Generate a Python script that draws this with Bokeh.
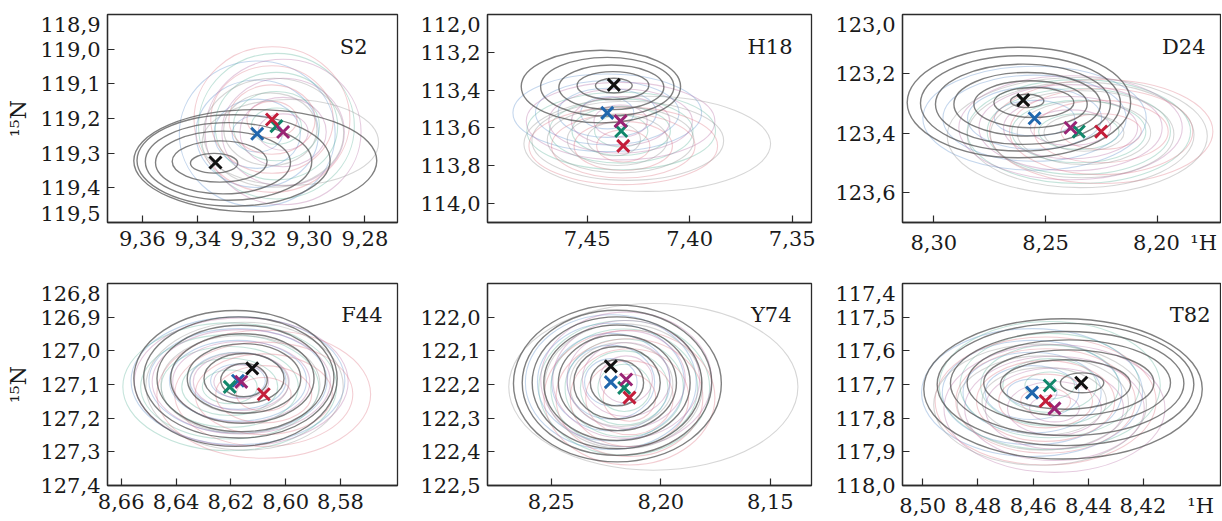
from bokeh.plotting import figure
from bokeh.models import Range1d, FixedTicker, Label, ColumnDataSource, AllLabels, LinearAxis
from bokeh.layouts import row, column
from bokeh.embed import file_html
from bokeh.resources import INLINE

FONT = "DejaVu Serif"

# series order: reference (black), blue, green, purple, red
series_colors = ["#111111", "#2067ad", "#12876b", "#9a2475", "#c41e3a"]
contour_colors = ["#111111", "#4f86c8", "#4fae92", "#b0609e", "#dc6a78"]

# ---------------- S2 ----------------
s2_name = "S2"
s2_xrange = [9.3725, 9.2683]
s2_yrange = [119.5, 118.9]
s2_xticks = [9.36, 9.34, 9.32, 9.30, 9.28]
s2_xlabels = ["9,36", "9,34", "9,32", "9,30", "9,28"]
s2_yticks = [118.9, 119.0, 119.1, 119.2, 119.3, 119.4, 119.5]
s2_ylabels = ["118,9", "119,0", "119,1", "119,2", "119,3", "119,4", "119,5"]
s2_peak_x = [9.3337, 9.3187, 9.3118, 9.3094, 9.3134]
s2_peak_y = [119.327, 119.244, 119.222, 119.239, 119.203]
s2_ref_cx = [9.3342, 9.3322, 9.3310, 9.3290, 9.3272, 9.3194]
s2_ref_cy = [119.329, 119.324, 119.327, 119.324, 119.321, 119.322]
s2_ref_w = [0.0170, 0.0341, 0.0485, 0.0598, 0.0694, 0.0873]
s2_ref_h = [0.057, 0.119, 0.181, 0.224, 0.264, 0.295]
s2_mid_cx = [9.3140, 9.3128, 9.3068]
s2_mid_cy = [119.231, 119.241, 119.269]
s2_mid_w = [0.0335, 0.0503, 0.0634]
s2_mid_h = [0.210, 0.314, 0.248]
s2_col_w = [0.018, 0.031, 0.044, 0.056]
s2_col_h = [0.105, 0.20, 0.31, 0.42]

# ---------------- H18 ----------------
h18_name = "H18"
h18_xrange = [7.4986, 7.3406]
h18_yrange = [114.1, 113.0]
h18_xticks = [7.45, 7.40, 7.35]
h18_xlabels = ["7,45", "7,40", "7,35"]
h18_yticks = [113.0, 113.2, 113.4, 113.6, 113.8, 114.0]
h18_ylabels = ["112,0", "113,2", "113,4", "113,6", "113,8", "114,0"]
h18_peak_x = [7.4370, 7.4402, 7.4334, 7.4337, 7.4324]
h18_peak_y = [113.372, 113.520, 113.616, 113.564, 113.695]
h18_ref_cx = [7.4370, 7.4374, 7.4382, 7.4402, 7.4433]
h18_ref_cy = [113.376, 113.376, 113.385, 113.382, 113.381]
h18_ref_w = [0.0179, 0.0350, 0.0512, 0.0650, 0.0777]
h18_ref_h = [0.0785, 0.148, 0.236, 0.311, 0.384]
h18_mid_cx = [7.4370, 7.4353, 7.4337, 7.4302, 7.4207]
h18_mid_cy = [113.660, 113.663, 113.663, 113.668, 113.684]
h18_mid_w = [0.0260, 0.0488, 0.0715, 0.0935, 0.1203]
h18_mid_h = [0.1745, 0.2705, 0.349, 0.419, 0.503]
h18_col_w = [0.026, 0.048, 0.070, 0.092]
h18_col_h = [0.17, 0.26, 0.34, 0.41]

# ---------------- D24 ----------------
d24_name = "D24"
d24_xrange = [8.314, 8.1717]
d24_yrange = [123.7, 123.0]
d24_xticks = [8.30, 8.25, 8.20]
d24_xlabels = ["8,30", "8,25", "8,20"]
d24_yticks = [123.0, 123.2, 123.4, 123.6]
d24_ylabels = ["123,0", "123,2", "123,4", "123,6"]
d24_peak_x = [8.2600, 8.2549, 8.2351, 8.2388, 8.2251]
d24_peak_y = [123.288, 123.349, 123.394, 123.381, 123.394]
d24_ref_cx = [8.2619, 8.2612, 8.2601, 8.2582, 8.2567, 8.2552, 8.2582]
d24_ref_cy = [123.296, 123.299, 123.302, 123.302, 123.302, 123.296, 123.291]
d24_ref_w = [0.1000, 0.0895, 0.0783, 0.0656, 0.0507, 0.0358, 0.0149]
d24_ref_h = [0.372, 0.321, 0.270, 0.214, 0.158, 0.101, 0.045]
d24_mid_cx = [8.2328, 8.2328, 8.2336, 8.2343, 8.2358]
d24_mid_cy = [123.398, 123.398, 123.403, 123.405, 123.409]
d24_mid_w = [0.0358, 0.0597, 0.0821, 0.1015, 0.1164]
d24_mid_h = [0.124, 0.214, 0.293, 0.355, 0.394]
d24_col_w = [0.036, 0.060, 0.082, 0.100]
d24_col_h = [0.12, 0.21, 0.29, 0.35]

# ---------------- F44 ----------------
f44_name = "F44"
f44_xrange = [8.665, 8.5592]
f44_yrange = [127.4, 126.8]
f44_xticks = [8.66, 8.64, 8.62, 8.60, 8.58]
f44_xlabels = ["8,66", "8,64", "8,62", "8,60", "8,58"]
f44_yticks = [126.8, 126.9, 127.0, 127.1, 127.2, 127.3, 127.4]
f44_ylabels = ["126,8", "126,9", "127,0", "127,1", "127,2", "127,3", "127,4"]
f44_peak_x = [8.6122, 8.6174, 8.6204, 8.6162, 8.6080]
f44_peak_y = [127.052, 127.089, 127.107, 127.092, 127.129]
f44_ref_cx = [8.6152, 8.6152, 8.6152, 8.6158, 8.6162, 8.6171, 8.6183]
f44_ref_cy = [127.087, 127.082, 127.082, 127.082, 127.082, 127.079, 127.082]
f44_ref_w = [0.0170, 0.0292, 0.0414, 0.0523, 0.0615, 0.0694, 0.0742]
f44_ref_h = [0.099, 0.148, 0.207, 0.266, 0.316, 0.360, 0.404]
f44_mid_cx = [8.6170, 8.6165, 8.6150]
f44_mid_cy = [127.095, 127.100, 127.105]
f44_mid_w = [0.036, 0.058, 0.072]
f44_mid_h = [0.18, 0.29, 0.38]
f44_col_w = [0.020, 0.035, 0.050, 0.065, 0.078]
f44_col_h = [0.10, 0.17, 0.24, 0.31, 0.38]

# ---------------- Y74 ----------------
y74_name = "Y74"
y74_xrange = [8.2791, 8.1312]
y74_yrange = [122.5, 121.9]
y74_xticks = [8.25, 8.20, 8.15]
y74_xlabels = ["8,25", "8,20", "8,15"]
y74_yticks = [122.0, 122.1, 122.2, 122.3, 122.4, 122.5]
y74_ylabels = ["122,0", "122,1", "122,2", "122,3", "122,4", "122,5"]
y74_peak_x = [8.2228, 8.2228, 8.2167, 8.2158, 8.2143]
y74_peak_y = [122.146, 122.193, 122.210, 122.185, 122.239]
y74_ref_cx = [8.2200, 8.2200, 8.2198, 8.2200, 8.2200, 8.2200, 8.2198]
y74_ref_cy = [122.195, 122.195, 122.195, 122.195, 122.195, 122.195, 122.197]
y74_ref_w = [0.0243, 0.0395, 0.0539, 0.0668, 0.0774, 0.0865, 0.0949]
y74_ref_h = [0.137, 0.216, 0.284, 0.343, 0.392, 0.431, 0.466]
y74_mid_cx = [8.2180, 8.2170, 8.2034]
y74_mid_cy = [122.200, 122.205, 122.207]
y74_mid_w = [0.047, 0.072, 0.132]
y74_mid_h = [0.25, 0.37, 0.495]
y74_col_w = [0.024, 0.040, 0.054, 0.067, 0.078]
y74_col_h = [0.14, 0.22, 0.29, 0.35, 0.40]

# ---------------- T82 ----------------
t82_name = "T82"
t82_xrange = [8.5073, 8.3922]
t82_yrange = [118.0, 117.4]
t82_xticks = [8.50, 8.48, 8.46, 8.44, 8.42]
t82_xlabels = ["8,50", "8,48", "8,46", "8,44", "8,42"]
t82_yticks = [117.4, 117.5, 117.6, 117.7, 117.8, 117.9, 118.0]
t82_ylabels = ["117,4", "117,5", "117,6", "117,7", "117,8", "117,9", "118,0"]
t82_peak_x = [8.4426, 8.4604, 8.4540, 8.4523, 8.4555]
t82_peak_y = [117.695, 117.724, 117.703, 117.771, 117.749]
t82_ref_cx = [8.4423, 8.4483, 8.4471, 8.4471, 8.4477, 8.4483, 8.4492]
t82_ref_cy = [117.695, 117.700, 117.695, 117.695, 117.697, 117.700, 117.713]
t82_ref_w = [0.0157, 0.0471, 0.0616, 0.0736, 0.0845, 0.0929, 0.1008]
t82_ref_h = [0.059, 0.147, 0.196, 0.255, 0.309, 0.363, 0.417]
t82_mid_cx = [8.4560, 8.4565, 8.4575]
t82_mid_cy = [117.750, 117.755, 117.760]
t82_mid_w = [0.045, 0.062, 0.077]
t82_mid_h = [0.20, 0.28, 0.36]
t82_col_w = [0.018, 0.034, 0.050, 0.065, 0.080]
t82_col_h = [0.08, 0.16, 0.24, 0.31, 0.38]

axis_label_15N = "¹⁵N"
axis_label_1H = "¹H"

EM, EN, THIN = "\u2003", "\u2002", "\u2009"


def style_axis(ax):
    ax.major_label_policy = AllLabels()
    ax.minor_tick_in = 0
    ax.minor_tick_out = 0
    ax.major_tick_line_color = "#2b2b2b"
    ax.major_tick_line_width = 1.2
    ax.axis_line_color = "#2b2b2b"
    ax.axis_line_width = 1.3
    ax.major_label_text_font = FONT
    ax.major_label_text_font_size = "21px"
    ax.major_label_text_color = "#1a1a1a"


def make_panel(name, xr, yr, xt, xl, yt, yl, px, py, rcx, rcy, rw, rh,
               mcx, mcy, mw, mh, cw, ch, width, height, mbl, mbr, mbt, mbb,
               name_off, ylabel=None, hgap=None, lift_bottom=False):
    p = figure(width=width, height=height,
               x_range=Range1d(xr[0], xr[1]), y_range=Range1d(yr[0], yr[1]),
               output_backend="svg", toolbar_location=None, tools="",
               min_border_left=mbl, min_border_right=mbr,
               min_border_top=mbt, min_border_bottom=mbb,
               background_fill_color="white", border_fill_color="white")
    p.grid.visible = False
    p.outline_line_color = "#2b2b2b"
    p.outline_line_width = 1.3
    p.outline_line_alpha = 1.0
    fw = width - mbl - mbr
    fh = height - mbt - mbb

    # colored contour families
    xs, ys, ws, hs, cs = [], [], [], [], []
    for i in range(1, len(px)):
        for w, h in zip(cw, ch):
            xs.append(px[i]); ys.append(py[i]); ws.append(w); hs.append(h)
            cs.append(contour_colors[i])
    p.ellipse(x="x", y="y", width="w", height="h",
              source=ColumnDataSource(dict(x=xs, y=ys, w=ws, h=hs, c=cs)),
              fill_color=None, line_color="c", line_alpha=0.33, line_width=1.1)
    # mid gray family
    p.ellipse(x="x", y="y", width="w", height="h",
              source=ColumnDataSource(dict(x=mcx, y=mcy, w=mw, h=mh)),
              fill_color=None, line_color="#999999", line_alpha=0.4, line_width=1.1)
    # reference family
    p.ellipse(x="x", y="y", width="w", height="h",
              source=ColumnDataSource(dict(x=rcx, y=rcy, w=rw, h=rh)),
              fill_color=None, line_color="#555555", line_alpha=0.75, line_width=1.4)
    # peak markers: colored first, black last
    order = [1, 2, 3, 4, 0]
    p.scatter(x=[px[i] for i in order], y=[py[i] for i in order],
              marker="x", size=17, line_width=3,
              line_color=[series_colors[i] for i in order])

    # x axis
    xa = p.xaxis[0]
    style_axis(xa)
    xa.ticker = FixedTicker(ticks=xt)
    xa.major_tick_in = 7
    xa.major_tick_out = 0
    xa.major_label_standoff = 8
    xlab = list(xl)
    if hgap is not None:
        # last x tick label carries the 1H unit, padded so the number stays centred
        xlab[-1] = hgap[1] + xlab[-1] + hgap[0] + axis_label_1H
    xa.major_label_overrides = dict(zip(xt, xlab))

    # y axis: tick marks only (closest to the frame)
    ya = p.yaxis[0]
    style_axis(ya)
    ya.ticker = FixedTicker(ticks=yt)
    ya.major_tick_in = 7
    ya.major_tick_out = 0
    ya.major_label_standoff = 0
    ya.major_label_overrides = {t: "" for t in yt}

    # y labels axis: end labels pulled inside the frame height like the reference
    per_px = (yr[0] - yr[1]) / fh
    pos = list(yt)
    if abs(pos[0] - yr[1]) < 1e-9:
        pos[0] = yr[1] + 10 * per_px
    if lift_bottom and abs(pos[-1] - yr[0]) < 1e-9:
        pos[-1] = yr[0] - 9 * per_px
    yb = LinearAxis(ticker=FixedTicker(ticks=pos))
    style_axis(yb)
    yb.major_tick_in = 0
    yb.major_tick_out = 0
    yb.axis_line_color = None
    yb.major_label_standoff = 7
    yb.major_label_overrides = dict(zip(pos, yl))
    if ylabel:
        yb.axis_label = ylabel
        yb.axis_label_text_font = FONT
        yb.axis_label_text_font_size = "22px"
        yb.axis_label_text_font_style = "normal"
        yb.axis_label_text_color = "#1a1a1a"
        yb.axis_label_standoff = 6
    p.add_layout(yb, "left")

    p.add_layout(Label(x=fw - name_off, y=fh - 33, x_units="screen", y_units="screen",
                       text=name, text_align="right", text_baseline="alphabetic",
                       text_font=FONT, text_font_size="21px", text_color="#1a1a1a"))
    return p


H1, H2 = 257, 263
W1, W2, W3 = 409, 414, 398

p1 = make_panel(s2_name, s2_xrange, s2_yrange, s2_xticks, s2_xlabels, s2_yticks, s2_ylabels,
                s2_peak_x, s2_peak_y, s2_ref_cx, s2_ref_cy, s2_ref_w, s2_ref_h,
                s2_mid_cx, s2_mid_cy, s2_mid_w, s2_mid_h, s2_col_w, s2_col_h,
                W1, H1, 107, 12, 14, 34, 30, ylabel=axis_label_15N, lift_bottom=True)
p2 = make_panel(h18_name, h18_xrange, h18_yrange, h18_xticks, h18_xlabels, h18_yticks, h18_ylabels,
                h18_peak_x, h18_peak_y, h18_ref_cx, h18_ref_cy, h18_ref_w, h18_ref_h,
                h18_mid_cx, h18_mid_cy, h18_mid_w, h18_mid_h, h18_col_w, h18_col_h,
                W2, H1, 78, 12, 14, 34, 19)
p3 = make_panel(d24_name, d24_xrange, d24_yrange, d24_xticks, d24_xlabels, d24_yticks, d24_ylabels,
                d24_peak_x, d24_peak_y, d24_ref_cx, d24_ref_cy, d24_ref_w, d24_ref_h,
                d24_mid_cx, d24_mid_cy, d24_mid_w, d24_mid_h, d24_col_w, d24_col_h,
                W3, H1, 79, 1, 14, 34, 15, hgap=(EN, EM + EN + THIN))
p4 = make_panel(f44_name, f44_xrange, f44_yrange, f44_xticks, f44_xlabels, f44_yticks, f44_ylabels,
                f44_peak_x, f44_peak_y, f44_ref_cx, f44_ref_cy, f44_ref_w, f44_ref_h,
                f44_mid_cx, f44_mid_cy, f44_mid_w, f44_mid_h, f44_col_w, f44_col_h,
                W1, H2, 107, 12, 26, 33, 15, ylabel=axis_label_15N)
p5 = make_panel(y74_name, y74_xrange, y74_yrange, y74_xticks, y74_xlabels, y74_yticks, y74_ylabels,
                y74_peak_x, y74_peak_y, y74_ref_cx, y74_ref_cy, y74_ref_w, y74_ref_h,
                y74_mid_cx, y74_mid_cy, y74_mid_w, y74_mid_h, y74_col_w, y74_col_h,
                W2, H2, 78, 12, 26, 33, 20)
p6 = make_panel(t82_name, t82_xrange, t82_yrange, t82_xticks, t82_xlabels, t82_yticks, t82_ylabels,
                t82_peak_x, t82_peak_y, t82_ref_cx, t82_ref_cy, t82_ref_w, t82_ref_h,
                t82_mid_cx, t82_mid_cy, t82_mid_w, t82_mid_h, t82_col_w, t82_col_h,
                W3, H2, 79, 1, 26, 33, 10, hgap=(EM, EM + EM + THIN))

layout = column(row(p1, p2, p3), row(p4, p5, p6))
open("out.html", "w").write(file_html(layout, INLINE))
